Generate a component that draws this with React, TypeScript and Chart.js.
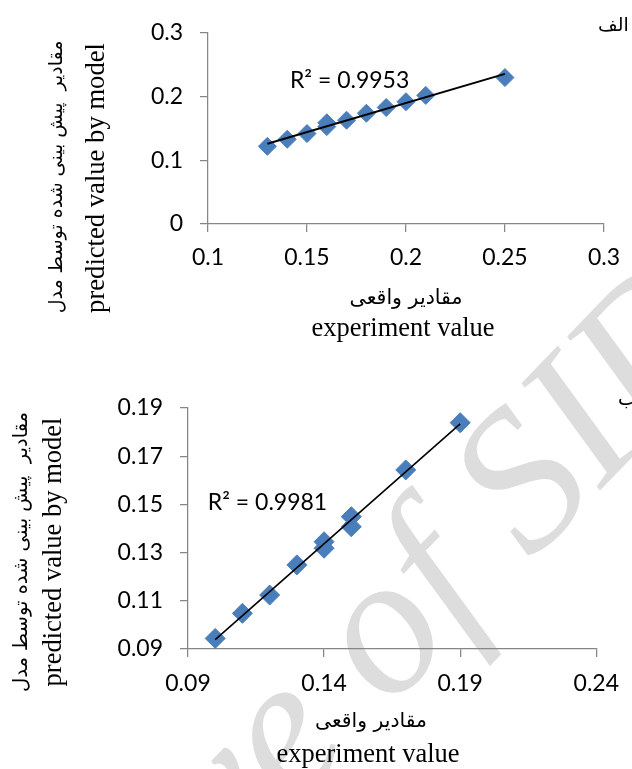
import { useEffect, useRef } from 'react';
import { Chart, registerables } from 'chart.js';

Chart.register(...registerables);

// ---------- data: chart (الف) ----------
const A_EXPERIMENT = [0.13, 0.14, 0.15, 0.16, 0.16, 0.17, 0.18, 0.19, 0.2, 0.21, 0.25];
const A_PREDICTED = [0.122, 0.133, 0.142, 0.153, 0.159, 0.163, 0.174, 0.183, 0.192, 0.202, 0.23];
const A_X_TICKS = [0.1, 0.15, 0.2, 0.25, 0.3];
const A_X_LABELS = ['0.1', '0.15', '0.2', '0.25', '0.3'];
const A_Y_TICKS = [0, 0.1, 0.2, 0.3];
const A_Y_LABELS = ['0', '0.1', '0.2', '0.3'];
const A_R2 = 'R² = 0.9953';

// ---------- data: chart (ب) ----------
const B_EXPERIMENT = [0.1, 0.11, 0.12, 0.13, 0.14, 0.14, 0.15, 0.15, 0.17, 0.19];
const B_PREDICTED = [0.0944, 0.1048, 0.1124, 0.1249, 0.1345, 0.1318, 0.1449, 0.1407, 0.1643, 0.1839];
const B_X_TICKS = [0.09, 0.14, 0.19, 0.24];
const B_X_LABELS = ['0.09', '0.14', '0.19', '0.24'];
const B_Y_TICKS = [0.09, 0.11, 0.13, 0.15, 0.17, 0.19];
const B_Y_LABELS = ['0.09', '0.11', '0.13', '0.15', '0.17', '0.19'];
const B_R2 = 'R² = 0.9981';

const X_TITLE_FA = 'مقادیر واقعی';
const X_TITLE_EN = 'experiment value';
const Y_TITLE_FA = 'مقادیر  پیش بینی شده توسط مدل';
const Y_TITLE_EN = 'predicted value by model';
const WATERMARK = 'Archive of SID';

const BLUE = '#4A7EBB';
const AXIS = '#868686';
const TICK_FONT = 'Lato';

function linearFit(xs: number[], ys: number[]) {
  const n = xs.length;
  const mx = xs.reduce((a, b) => a + b, 0) / n;
  const my = ys.reduce((a, b) => a + b, 0) / n;
  let sxy = 0;
  let sxx = 0;
  for (let i = 0; i < n; i++) {
    sxy += (xs[i] - mx) * (ys[i] - my);
    sxx += (xs[i] - mx) * (xs[i] - mx);
  }
  const m = sxy / sxx;
  return { m, b: my - m * mx };
}

function fitSize(ctx: CanvasRenderingContext2D, text: string, style: string, family: string, width: number) {
  ctx.font = `${style} 100px ${family}`;
  const w = ctx.measureText(text).width;
  return (100 * width) / w;
}

type Spec = {
  xs: number[];
  ys: number[];
  xTicks: number[];
  xLabels: string[];
  yTicks: number[];
  yLabels: string[];
  r2: string;
  r2At: [number, number];
  pointR: number;
  lineW: number;
  W: number;
  H: number;
  pageTop: number;
  area: { left: number; right: number; top: number; bottom: number };
  xPad: number;
  titles: {
    faX: [number, number, number];
    enX: [number, number, number];
    enY: [number, number, number];
    faY: [number, number, number];
  };
  corner: { text: string; x: number; y: number };
};

function makeConfig(s: Spec): any {
  const fit = linearFit(s.xs, s.ys);
  const minX = Math.min(...s.xs);
  const maxX = Math.max(...s.xs);
  const points = s.xs.map((x, i) => ({ x, y: s.ys[i] }));
  const trend = [
    { x: minX, y: fit.m * minX + fit.b },
    { x: maxX, y: fit.m * maxX + fit.b },
  ];

  const watermark = {
    id: 'watermark',
    beforeDraw(chart: any) {
      const ctx = chart.ctx as CanvasRenderingContext2D;
      const em = 200;
      ctx.save();
      ctx.font = `italic ${em}px "Liberation Serif"`;
      const wA = ctx.measureText('Archive ').width;
      ctx.translate(390, 642 - s.pageTop);
      ctx.rotate((-46 * Math.PI) / 180);
      ctx.fillStyle = '#dddddd';
      ctx.textAlign = 'left';
      ctx.textBaseline = 'alphabetic';
      ctx.fillText(WATERMARK, -(wA + 0.25 * em), 0.23 * em);
      ctx.restore();
    },
  };

  const texts = {
    id: 'texts',
    afterDraw(chart: any) {
      const ctx = chart.ctx as CanvasRenderingContext2D;
      const xs = chart.scales.x;
      const ys = chart.scales.y;
      ctx.save();
      ctx.fillStyle = '#000';
      // R² label
      ctx.font = `23px ${TICK_FONT}`;
      ctx.textAlign = 'left';
      ctx.textBaseline = 'middle';
      ctx.fillText(s.r2, xs.getPixelForValue(s.r2At[0]), ys.getPixelForValue(s.r2At[1]));

      const T = s.titles;
      // x title Persian
      let sz = fitSize(ctx, X_TITLE_FA, '', '"DejaVu Sans"', T.faX[2]);
      ctx.font = `${sz}px "DejaVu Sans"`;
      ctx.direction = 'rtl';
      ctx.textAlign = 'center';
      ctx.textBaseline = 'middle';
      ctx.fillText(X_TITLE_FA, T.faX[0], T.faX[1]);
      // x title English
      ctx.direction = 'ltr';
      sz = fitSize(ctx, X_TITLE_EN, '', '"Liberation Serif"', T.enX[2]);
      ctx.font = `${sz}px "Liberation Serif"`;
      ctx.textBaseline = 'alphabetic';
      ctx.fillText(X_TITLE_EN, T.enX[0], T.enX[1]);
      // y title English (rotated)
      sz = fitSize(ctx, Y_TITLE_EN, '', '"Liberation Serif"', T.enY[2]);
      ctx.save();
      ctx.translate(T.enY[0], T.enY[1]);
      ctx.rotate(-Math.PI / 2);
      ctx.font = `${sz}px "Liberation Serif"`;
      ctx.textAlign = 'center';
      ctx.textBaseline = 'alphabetic';
      ctx.fillText(Y_TITLE_EN, 0, 0);
      ctx.restore();
      // y title Persian (rotated)
      sz = fitSize(ctx, Y_TITLE_FA, '', '"DejaVu Sans"', T.faY[2]);
      ctx.save();
      ctx.translate(T.faY[0], T.faY[1]);
      ctx.rotate(-Math.PI / 2);
      ctx.font = `${sz}px "DejaVu Sans"`;
      ctx.direction = 'rtl';
      ctx.textAlign = 'center';
      ctx.textBaseline = 'middle';
      ctx.fillText(Y_TITLE_FA, 0, 0);
      ctx.restore();
      // corner label
      ctx.font = '19px "DejaVu Sans"';
      ctx.direction = 'ltr';
      ctx.textAlign = 'left';
      ctx.textBaseline = 'middle';
      ctx.fillText(s.corner.text, s.corner.x, s.corner.y);
      ctx.restore();
    },
  };

  const grid = {
    display: true,
    drawOnChartArea: false,
    drawTicks: true,
    tickLength: 8,
    color: AXIS,
    lineWidth: 1.25,
  };
  const border = { display: true, color: AXIS, width: 1.25 };

  return {
    type: 'scatter',
    data: {
      datasets: [
        {
          type: 'line',
          data: trend,
          borderColor: '#000',
          borderWidth: s.lineW,
          pointRadius: 0,
          fill: false,
          order: 0,
        },
        {
          type: 'scatter',
          data: points,
          pointStyle: 'rectRot',
          pointRadius: s.pointR,
          pointHoverRadius: s.pointR,
          backgroundColor: BLUE,
          borderColor: BLUE,
          borderWidth: 1,
          order: 1,
        },
      ],
    },
    options: {
      animation: false,
      responsive: false,
      devicePixelRatio: 1,
      events: [],
      layout: {
        padding: { left: 0, top: s.area.top, right: s.W - s.area.right, bottom: 0 },
      },
      plugins: { legend: { display: false }, tooltip: { enabled: false }, title: { display: false } },
      scales: {
        x: {
          type: 'linear',
          position: 'bottom',
          min: s.xTicks[0],
          max: s.xTicks[s.xTicks.length - 1],
          afterBuildTicks: (sc: any) => {
            sc.ticks = s.xTicks.map((v) => ({ value: v }));
          },
          afterFit: (sc: any) => {
            sc.height = s.H - s.area.bottom;
          },
          ticks: {
            callback: (_v: any, i: number) => s.xLabels[i],
            color: '#000',
            font: { family: TICK_FONT, size: 23 },
            padding: s.xPad,
            maxRotation: 0,
            autoSkip: false,
          },
          grid,
          border,
        },
        y: {
          type: 'linear',
          position: 'left',
          min: s.yTicks[0],
          max: s.yTicks[s.yTicks.length - 1],
          afterBuildTicks: (sc: any) => {
            sc.ticks = s.yTicks.map((v) => ({ value: v }));
          },
          afterFit: (sc: any) => {
            sc.width = s.area.left;
          },
          ticks: {
            callback: (_v: any, i: number) => s.yLabels[i],
            color: '#000',
            font: { family: TICK_FONT, size: 23 },
            padding: 17,
            autoSkip: false,
          },
          grid,
          border,
        },
      },
    },
    plugins: [watermark, texts],
  };
}

const SPEC_A: Spec = {
  xs: A_EXPERIMENT,
  ys: A_PREDICTED,
  xTicks: A_X_TICKS,
  xLabels: A_X_LABELS,
  yTicks: A_Y_TICKS,
  yLabels: A_Y_LABELS,
  r2: A_R2,
  r2At: [0.1414, 0.2245],
  pointR: 9,
  lineW: 2,
  W: 632,
  H: 370,
  pageTop: 0,
  area: { left: 208, right: 604, top: 33, bottom: 224 },
  xPad: 12,
  titles: {
    faX: [406, 299, 113],
    enX: [403, 336, 183],
    enY: [104, 178, 270],
    faY: [57, 177, 273],
  },
  corner: { text: 'الف', x: 598, y: 26 },
};

const SPEC_B: Spec = {
  xs: B_EXPERIMENT,
  ys: B_PREDICTED,
  xTicks: B_X_TICKS,
  xLabels: B_X_LABELS,
  yTicks: B_Y_TICKS,
  yLabels: B_Y_LABELS,
  r2: B_R2,
  r2At: [0.0973, 0.1507],
  pointR: 10,
  lineW: 1.6,
  W: 632,
  H: 399,
  pageTop: 370,
  area: { left: 188, right: 597, top: 38, bottom: 279 },
  xPad: 13,
  titles: {
    faX: [371, 352, 112],
    enX: [368, 392, 183],
    enY: [61, 182, 269],
    faY: [22, 182, 280],
  },
  corner: { text: 'ب', x: 618, y: 30 },
};

function ChartCanvas({ spec }: { spec: Spec }) {
  const ref = useRef<HTMLCanvasElement | null>(null);
  useEffect(() => {
    if (!ref.current) return;
    const chart = new Chart(ref.current, makeConfig(spec));
    return () => chart.destroy();
  }, [spec]);
  return (
    <canvas
      ref={ref}
      width={spec.W}
      height={spec.H}
      style={{ position: 'absolute', left: 0, top: spec.pageTop, width: spec.W, height: spec.H }}
    />
  );
}

export default function App() {
  return (
    <div style={{ position: 'absolute', left: 0, top: 0, width: 632, height: 769, background: '#fff', overflow: 'hidden' }}>
      <ChartCanvas spec={SPEC_A} />
      <ChartCanvas spec={SPEC_B} />
    </div>
  );
}
